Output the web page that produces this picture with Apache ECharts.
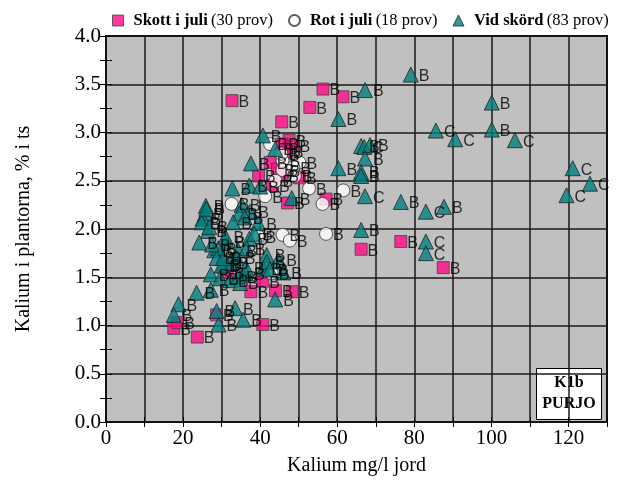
<!DOCTYPE html>
<html>
<head>
<meta charset="utf-8">
<script src="https://cdn.jsdelivr.net/npm/echarts@6/dist/echarts.min.js"></script>
<style>
  html, body { margin: 0; padding: 0; background: #fff; }
  #chart { width: 618px; height: 481px; }
</style>
</head>
<body>
<div id="chart"></div>
<script>
// skott i juli (rosa kvadrater), alla märkta B
var skottPts = [
  [32.7, 3.33], [56.3, 3.45], [61.5, 3.37], [52.9, 3.26], [45.6, 3.11],
  [47.5, 2.92], [48.5, 2.86], [45.6, 2.88], [42.6, 2.69], [39.6, 2.55],
  [45.6, 2.55], [50.2, 2.53], [43.2, 2.45], [47.1, 2.27], [57.1, 2.31],
  [66.2, 1.79], [76.5, 1.87], [87.5, 1.60], [40.7, 1.46], [37.6, 1.35],
  [44.0, 1.36], [48.3, 1.35], [40.7, 1.01], [23.7, 0.88], [17.6, 0.97],
  [18.6, 1.03], [28.7, 1.11], [46.8, 2.80], [44.5, 2.62], [31.5, 1.55]
];
// rot i juli (vita cirklar), alla märkta B
var rotPts = [
  [42.6, 2.88], [45.8, 2.71], [45.8, 2.61], [50.2, 2.69], [48.6, 2.64],
  [52.7, 2.42], [61.6, 2.40], [41.3, 2.34], [32.6, 2.26], [56.2, 2.26],
  [45.8, 1.94], [47.7, 1.88], [57.1, 1.95], [39.6, 1.92], [43.0, 1.54],
  [45.5, 2.78], [49.0, 2.55], [44.0, 2.50]
];
// vid skörd (gröna trianglar)
var skordPts = [
  [79.1, 3.60], [67.2, 3.44], [60.3, 3.14], [100.1, 3.31], [100.1, 3.03],
  [85.6, 3.02], [90.6, 2.93], [106.1, 2.92], [66.2, 2.86], [67.0, 2.85],
  [68.5, 2.87], [67.2, 2.73], [60.3, 2.63], [66.2, 2.59], [66.2, 2.55],
  [67.2, 2.34], [76.5, 2.28], [83.0, 2.18], [87.7, 2.23], [121.1, 2.63],
  [125.6, 2.47], [119.5, 2.35], [66.2, 1.99], [83.0, 1.87], [83.0, 1.75],
  [40.7, 2.97], [43.9, 2.83], [37.6, 2.68], [32.8, 2.42], [37.2, 2.45],
  [40.0, 2.44], [48.2, 2.32], [25.9, 2.24], [25.7, 2.16], [25.1, 2.11],
  [26.5, 1.98], [35.2, 2.25], [34.6, 2.16], [37.4, 2.18], [39.5, 2.06],
  [33.0, 2.07], [31.3, 1.87], [24.2, 1.86], [37.2, 1.90], [28.1, 1.78],
  [41.7, 1.73], [24.8, 2.07], [26.8, 2.02], [29.1, 1.80], [34.3, 1.78],
  [28.7, 1.70], [33.9, 1.70], [30.4, 1.63], [32.2, 1.65], [27.2, 1.53],
  [30.0, 1.62], [29.6, 1.49], [32.2, 1.47], [34.8, 1.44], [36.3, 1.54],
  [40.8, 1.59], [23.5, 1.34], [27.2, 1.37], [18.8, 1.22], [17.6, 1.11],
  [28.7, 1.15], [33.5, 1.18], [35.6, 1.06], [29.2, 1.01], [43.9, 1.27],
  [41.7, 1.66], [44.7, 1.68], [30.4, 1.70], [36.3, 1.60], [42.5, 1.58],
  [46.0, 1.55], [26.0, 2.21], [36.0, 2.12], [31.0, 1.92], [38.5, 1.95],
  [36.5, 1.80], [27.5, 1.84], [34.3, 1.51]
];
var skordLbl = [
  'B','B','B','B','B','C','C','C','B','C',
  'B','B','B','B','B','C','B','C','B','C',
  'C','C','B','C','C','B','B','B','B','B',
  'B','B','B','B','B','B','B','B','B','B',
  'B','B','B','B','B','B','B','B','B','B',
  'B','B','B','B','B','B','B','B','B','B',
  'B','B','B','B','B','B','B','B','B','B',
  'B','B','B','B','B','B','B','B','B','B',
  'B','B','B'
];
var xTicks = [0, 20, 40, 60, 80, 100, 120];
var yTicks = ['0.0', '0.5', '1.0', '1.5', '2.0', '2.5', '3.0', '3.5', '4.0'];

var serif = '"Liberation Serif", "Times New Roman", serif';
var ptLabel = {
  show: true, position: 'right', distance: 0, offset: [0, 2],
  fontFamily: '"Liberation Sans", Arial, sans-serif', fontSize: 16, color: '#000'
};

var skordData = skordPts.map(function (p, i) {
  return { value: p, label: { formatter: skordLbl[i] } };
});

var chart = echarts.init(document.getElementById('chart'));
var option = {
  animation: false,
  backgroundColor: '#fff',
  grid: {
    left: 106, right: 11, top: 36, bottom: 56,
    show: true, backgroundColor: '#c0c0c0', borderColor: '#000', borderWidth: 2
  },
  legend: {
    top: 12, left: 112, width: 506, padding: 0, itemGap: 15, itemWidth: 11, itemHeight: 11,
    data: [
      { name: 'Skott i juli', itemStyle: { borderWidth: 1 } },
      { name: 'Rot i juli' },
      { name: 'Vid skörd', itemStyle: { borderWidth: 1 } }
    ],
    formatter: function (name) {
      var n = { 'Skott i juli': 30, 'Rot i juli': 18, 'Vid skörd': 83 }[name];
      return '{b|' + name + '} {n|(' + n + ' prov)}';
    },
    textStyle: {
      rich: {
        b: { fontFamily: serif, fontSize: 16.5, fontWeight: 'bold', color: '#000', padding: [0, 0, 0, 5] },
        n: { fontFamily: serif, fontSize: 16.5, color: '#000' }
      }
    }
  },
  xAxis: [{
    type: 'value', min: 0, max: 130, interval: 10,
    axisLine: { show: false },
    axisTick: { show: true, inside: true, length: 5, lineStyle: { color: '#000' } },
    axisLabel: {
      fontFamily: serif, fontSize: 21, color: '#000', margin: 6,
      formatter: function (v) { return xTicks.indexOf(v) >= 0 ? String(v) : ''; }
    },
    splitLine: { show: true, lineStyle: { color: '#1a1a1a', width: 1.5 } },
    name: 'Kalium mg/l jord', nameLocation: 'middle', nameGap: 34,
    nameTextStyle: { fontFamily: serif, fontSize: 20, color: '#000' }
  }, {
    type: 'value', min: 0, max: 130, interval: 10, position: 'top',
    axisLine: { show: false },
    axisTick: { show: true, inside: true, length: 5, lineStyle: { color: '#000' } },
    axisLabel: { show: false }, splitLine: { show: false }
  }],
  yAxis: [{
    type: 'value', min: 0, max: 4, interval: 0.5,
    axisLine: { show: false },
    axisTick: { show: true, inside: true, length: 6, lineStyle: { color: '#000' } },
    minorTick: { show: true, splitNumber: 2, length: 6, lineStyle: { color: '#000' } },
    axisLabel: {
      fontFamily: serif, fontSize: 21, color: '#000', margin: 5,
      formatter: function (v) { return yTicks[Math.round(v * 2)]; }
    },
    splitLine: { show: true, lineStyle: { color: '#1a1a1a', width: 1.5 } },
    name: 'Kalium i plantorna, % i ts', nameLocation: 'middle', nameGap: 72,
    nameTextStyle: { fontFamily: serif, fontSize: 20, color: '#000' }
  }, {
    type: 'value', min: 0, max: 4, interval: 0.5, position: 'right',
    axisLine: { show: false },
    axisTick: { show: true, inside: true, length: 6, lineStyle: { color: '#000' } },
    minorTick: { show: true, splitNumber: 2, length: 6, lineStyle: { color: '#000' } },
    axisLabel: { show: false }, splitLine: { show: false }
  }],
  series: [{
    name: 'Skott i juli', type: 'scatter', symbol: 'rect', symbolSize: 12,
    itemStyle: { color: '#ff0a84', borderColor: '#444', borderWidth: 1 },
    label: Object.assign({ formatter: 'B' }, ptLabel),
    data: skottPts
  }, {
    name: 'Rot i juli', type: 'scatter', symbol: 'circle', symbolSize: 13,
    itemStyle: { color: '#fff', borderColor: '#333', borderWidth: 1 },
    label: Object.assign({ formatter: 'B' }, ptLabel),
    data: rotPts
  }, {
    name: 'Vid skörd', type: 'scatter', symbol: 'triangle', symbolSize: 15,
    itemStyle: { color: '#007f7f', borderColor: '#222', borderWidth: 1 },
    label: ptLabel,
    data: skordData
  }],
  graphic: [{
    type: 'group', left: 536, top: 368,
    children: [{
      type: 'rect', shape: { x: 0, y: 0, width: 65, height: 51 },
      style: { fill: '#fff', stroke: '#000', lineWidth: 1 }
    }, {
      type: 'text', x: 32.5, y: 6,
      style: { text: 'K1b', fontFamily: serif, fontSize: 16, fontWeight: 'bold', fill: '#000', align: 'center' }
    }, {
      type: 'text', x: 32.5, y: 27,
      style: { text: 'PURJO', fontFamily: serif, fontSize: 16, fontWeight: 'bold', fill: '#000', align: 'center' }
    }]
  }]
};
chart.setOption(option);
</script>
</body>
</html>
